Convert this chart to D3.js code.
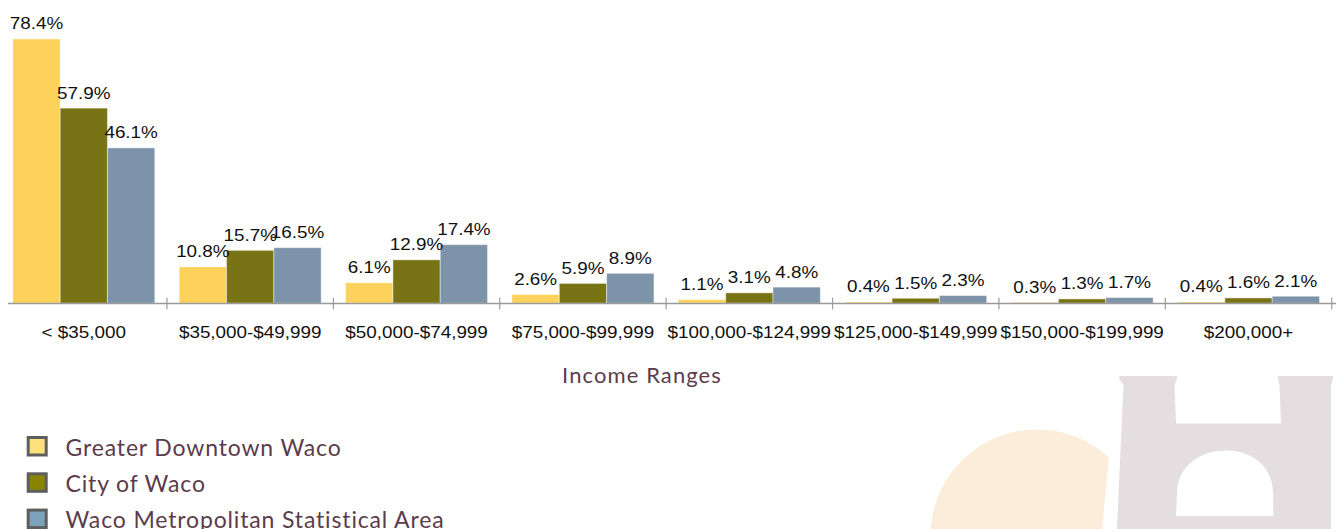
<!DOCTYPE html>
<html>
<head>
<meta charset="utf-8">
<script src="https://cdn.jsdelivr.net/npm/d3@7/dist/d3.min.js"></script>
<style>
  html, body { margin: 0; padding: 0; background: #fff; }
  svg { display: block; }
</style>
</head>
<body>
<svg id="chart" width="1336" height="529"></svg>
<script>
const categories = ["< $35,000", "$35,000-$49,999", "$50,000-$74,999", "$75,000-$99,999",
  "$100,000-$124,999", "$125,000-$149,999", "$150,000-$199,999", "$200,000+"];
const seriesNames = ["Greater Downtown Waco", "City of Waco", "Waco Metropolitan Statistical Area"];
const downtown = [78.4, 10.8, 6.1, 2.6, 1.1, 0.4, 0.3, 0.4];
const cityWaco = [57.9, 15.7, 12.9, 5.9, 3.1, 1.5, 1.3, 1.6];
const metroArea = [46.1, 16.5, 17.4, 8.9, 4.8, 2.3, 1.7, 2.1];
const seriesValues = [downtown, cityWaco, metroArea];
const barColors = ["#FDD25A", "#787416", "#7D93AA"];
const legendColors = ["#FFE07A", "#8A8500", "#7DA2BC"];
const axisTitle = "Income Ranges";

const svg = d3.select("#chart");

// background decoration
const deco = svg.append("g");
deco.append("clipPath").attr("id", "circClip")
  .append("path").attr("d", "M900,400 L1109,400 L1109,456 L1102,529 L900,529 Z");
deco.append("circle").attr("cx", 1037).attr("cy", 536).attr("r", 106.5)
  .attr("fill", "#FBEDDA").attr("clip-path", "url(#circClip)");
deco.append("path")
  .attr("fill", "#E4DEE1")
  .attr("fill-rule", "evenodd")
  .attr("d",
    "M1119,376 L1177,376 Q1177,382 1174.5,384 L1176,423.5 L1281,423.5 L1279.5,384 Q1278,382 1278,376 L1333,376 Q1333,382 1331,384 L1331,529 L1117,529 L1123.5,384 Q1119.5,382 1119,376 Z " +
    "M1176,516 L1177,492 C1178,466 1200,450.5 1226,450.5 C1252,450.5 1272,466 1273,492 L1273.5,516 Z");

// scales
const x = d3.scaleBand().domain(categories).range([0.6, 1331.7]).padding(0);
const xInner = d3.scaleBand().domain(seriesNames)
  .range([12.2, x.bandwidth() - 12.2]).padding(0);
const y = d3.scaleLinear().domain([0, 80]).range([303.3, 33.6]);

// bars
const groups = svg.append("g").selectAll("g")
  .data(categories).join("g")
  .attr("transform", c => `translate(${x(c)},0)`);

groups.selectAll("rect")
  .data((c, i) => seriesNames.map((s, k) => ({ s, k, v: seriesValues[k][i] })))
  .join("rect")
  .attr("x", d => xInner(d.s))
  .attr("y", d => y(d.v))
  .attr("width", xInner.bandwidth())
  .attr("height", d => y(0) - y(d.v))
  .attr("fill", d => barColors[d.k])
  .attr("stroke", "rgba(255,255,255,0.45)")
  .attr("stroke-width", 1);

// value labels
groups.selectAll("text")
  .data((c, i) => seriesNames.map((s, k) => ({ s, k, v: seriesValues[k][i] })))
  .join("text")
  .attr("transform", d => `translate(${xInner(d.s) + xInner.bandwidth() / 2},${y(d.v) - 9.6}) scale(1.15,1)`)
  .attr("text-anchor", "middle")
  .attr("font-family", "Liberation Sans, Arial, sans-serif")
  .attr("font-size", "16.4px")
  .attr("fill", "#111")
  .text(d => d.v.toFixed(1) + "%");

// axis line and ticks
const axisG = svg.append("g");
axisG.append("line")
  .attr("x1", 8).attr("x2", 1336)
  .attr("y1", y(0) + 0.2).attr("y2", y(0) + 0.2)
  .attr("stroke", "#9a9a9a").attr("stroke-width", 1.3);
axisG.selectAll("line.tick")
  .data(categories).join("line")
  .attr("class", "tick")
  .attr("x1", c => x(c) + x.bandwidth()).attr("x2", c => x(c) + x.bandwidth())
  .attr("y1", y(0) - 5.5).attr("y2", y(0) + 6)
  .attr("stroke", "#9a9a9a").attr("stroke-width", 1.2);
axisG.selectAll("text")
  .data(categories).join("text")
  .attr("transform", c => `translate(${x(c) + x.bandwidth() / 2},338) scale(1.15,1)`)
  .attr("text-anchor", "middle")
  .attr("font-family", "Liberation Sans, Arial, sans-serif")
  .attr("font-size", "16.4px")
  .attr("fill", "#111")
  .text(c => c);

// axis title
svg.append("text")
  .attr("x", 642).attr("y", 383)
  .attr("text-anchor", "middle")
  .attr("font-family", "Lato, sans-serif")
  .attr("font-size", "22px")
  .attr("letter-spacing", "1.1px")
  .attr("fill", "#5C3B4B")
  .text(axisTitle);

// legend
const legend = svg.append("g").selectAll("g")
  .data(seriesNames).join("g")
  .attr("transform", (d, i) => `translate(0,${i * 36.3})`);
legend.append("rect")
  .attr("x", 28.2).attr("y", 437.5)
  .attr("width", 18).attr("height", 17.5)
  .attr("fill", (d, i) => legendColors[i])
  .attr("stroke", "#5e5e5e").attr("stroke-width", 3);
legend.append("text")
  .attr("x", 65.5).attr("y", 455.5)
  .attr("font-family", "Lato, sans-serif")
  .attr("font-size", "23px")
  .attr("letter-spacing", "0.85px")
  .attr("fill", "#5C3B4B")
  .text(d => d);
</script>
</body>
</html>
